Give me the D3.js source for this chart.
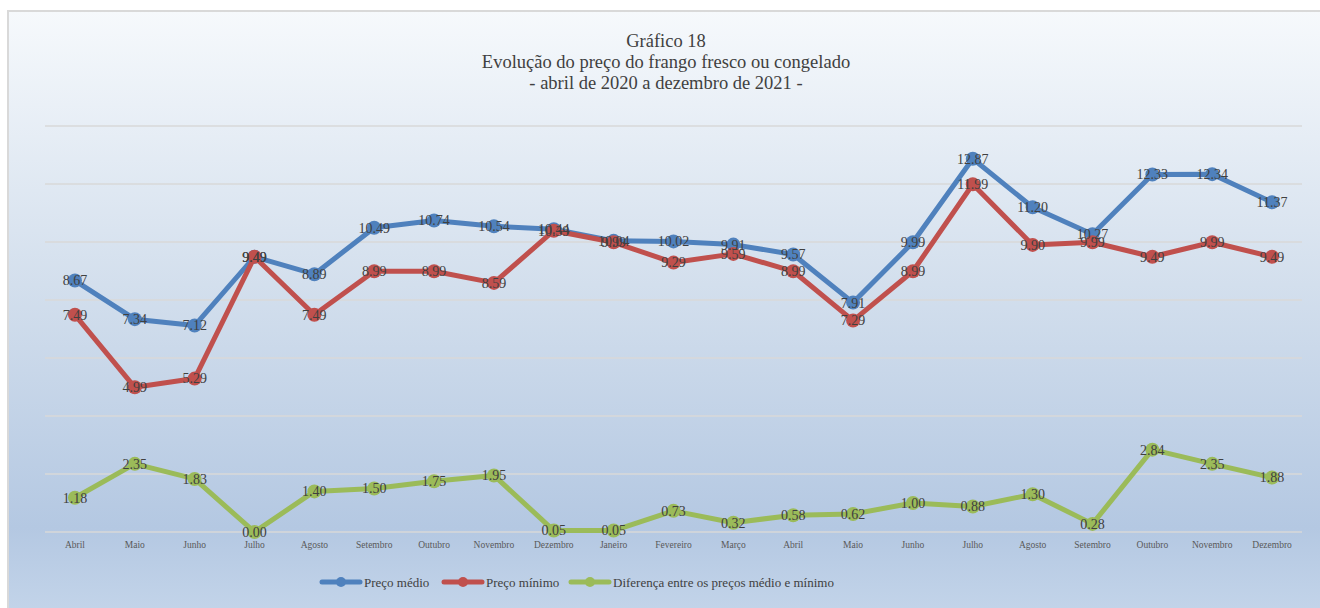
<!DOCTYPE html>
<html>
<head>
<meta charset="utf-8">
<script src="https://cdn.jsdelivr.net/npm/d3@7"></script>
<style>
  body { margin: 0; background: #fff; }
  svg text { font-family: "Liberation Serif", "DejaVu Serif", serif; }
</style>
</head>
<body>
<div id="chart"></div>
<script>
// Dados
var meses = ["Abril", "Maio", "Junho", "Julho", "Agosto", "Setembro", "Outubro", "Novembro", "Dezembro",
             "Janeiro", "Fevereiro", "Março", "Abril", "Maio", "Junho", "Julho", "Agosto", "Setembro",
             "Outubro", "Novembro", "Dezembro"];
var precoMedio = [8.67, 7.34, 7.12, 9.49, 8.89, 10.49, 10.74, 10.54, 10.44, 10.04, 10.02, 9.91, 9.57,
                  7.91, 9.99, 12.87, 11.20, 10.27, 12.33, 12.34, 11.37];
var precoMinimo = [7.49, 4.99, 5.29, 9.49, 7.49, 8.99, 8.99, 8.59, 10.39, 9.99, 9.29, 9.59, 8.99,
                   7.29, 8.99, 11.99, 9.90, 9.99, 9.49, 9.99, 9.49];
var diferenca = [1.18, 2.35, 1.83, 0.00, 1.40, 1.50, 1.75, 1.95, 0.05, 0.05, 0.73, 0.32, 0.58,
                 0.62, 1.00, 0.88, 1.30, 0.28, 2.84, 2.35, 1.88];
var yTicks = [0, 2, 4, 6, 8, 10, 12, 14];

var series = [
  { nome: "Preço médio", valores: precoMedio, cor: "#4f81bd" },
  { nome: "Preço mínimo", valores: precoMinimo, cor: "#c0504d" },
  { nome: "Diferença entre os preços médio e mínimo", valores: diferenca, cor: "#9bbb59" }
];

var width = 1320, height = 608;
var fonte = "Liberation Serif, DejaVu Serif, serif";

var svg = d3.select("#chart").append("svg")
    .attr("width", width)
    .attr("height", height)
    .attr("font-family", fonte);

// Fundo em degradê
var defs = svg.append("defs");
var grad = defs.append("linearGradient")
    .attr("id", "fundo")
    .attr("x1", 0).attr("y1", 0).attr("x2", 0).attr("y2", 1);
grad.append("stop").attr("offset", "0%").attr("stop-color", "#f6f9fc");
grad.append("stop").attr("offset", "45%").attr("stop-color", "#d3dfed");
grad.append("stop").attr("offset", "85%").attr("stop-color", "#b4c8e2");
grad.append("stop").attr("offset", "100%").attr("stop-color", "#c4d5ea");

svg.append("rect")
    .attr("x", 8).attr("y", 11)
    .attr("width", width).attr("height", height)
    .attr("fill", "url(#fundo)")
    .attr("stroke", "#d9d9d9")
    .attr("stroke-width", 2);

// Título
var titulo = ["Gráfico 18", "Evolução do preço do frango fresco ou congelado", "- abril de 2020 a dezembro de 2021 -"];
svg.append("g").selectAll("text")
    .data(titulo)
    .enter().append("text")
    .attr("x", 666)
    .attr("y", function(d, i) { return 47 + i * 21; })
    .attr("text-anchor", "middle")
    .attr("font-size", 18.5)
    .attr("fill", "#404040")
    .text(function(d) { return d; });

// Escalas
var x = d3.scaleBand()
    .domain(d3.range(meses.length))
    .range([45, 1302]);

var y = d3.scaleLinear()
    .domain([0, 14])
    .range([532, 126]);

// Linhas de grade
svg.append("g").selectAll("line")
    .data(yTicks)
    .enter().append("line")
    .attr("x1", 45).attr("x2", 1302)
    .attr("y1", function(d) { return y(d); })
    .attr("y2", function(d) { return y(d); })
    .attr("stroke", "#d9d9d9")
    .attr("stroke-width", 1.5);

// Eixo X
var xAxis = svg.append("g")
    .attr("transform", "translate(0," + y(0) + ")")
    .call(d3.axisBottom(x).tickSize(0).tickPadding(9).tickFormat(function(i) { return meses[i]; }));
xAxis.attr("font-family", fonte);
xAxis.select(".domain").remove();
xAxis.selectAll("text")
    .attr("font-size", 9.5)
    .attr("fill", "#595959");

var cx = function(d, i) { return x(i) + x.bandwidth() / 2; };

var line = d3.line()
    .x(cx)
    .y(function(d) { return y(d); });

// Séries
series.forEach(function(s) {
  var g = svg.append("g");
  g.append("path")
      .datum(s.valores)
      .attr("d", line)
      .attr("fill", "none")
      .attr("stroke", s.cor)
      .attr("stroke-width", 5)
      .attr("stroke-linejoin", "round");
  g.selectAll("circle")
      .data(s.valores)
      .enter().append("circle")
      .attr("cx", cx)
      .attr("cy", function(d) { return y(d); })
      .attr("r", 7)
      .attr("fill", s.cor);
});

// Rótulos de dados
series.forEach(function(s) {
  svg.append("g").selectAll("text")
      .data(s.valores)
      .enter().append("text")
      .attr("x", cx)
      .attr("y", function(d) { return y(d); })
      .attr("dy", "0.35em")
      .attr("text-anchor", "middle")
      .attr("font-size", 14)
      .attr("fill", "#404040")
      .text(function(d) { return d3.format(".2f")(d); });
});

// Legenda
var legendX = [322, 444, 571];
var legend = svg.append("g").selectAll("g")
    .data(series)
    .enter().append("g")
    .attr("transform", function(d, i) { return "translate(" + legendX[i] + ",582)"; });
legend.append("line")
    .attr("x1", 0).attr("x2", 38)
    .attr("stroke", function(d) { return d.cor; })
    .attr("stroke-width", 5)
    .attr("stroke-linecap", "round");
legend.append("circle")
    .attr("cx", 19).attr("r", 5)
    .attr("fill", function(d) { return d.cor; });
legend.append("text")
    .attr("x", 42)
    .attr("dy", "0.35em")
    .attr("font-size", 13)
    .attr("fill", "#404040")
    .text(function(d) { return d.nome; });
</script>
</body>
</html>
